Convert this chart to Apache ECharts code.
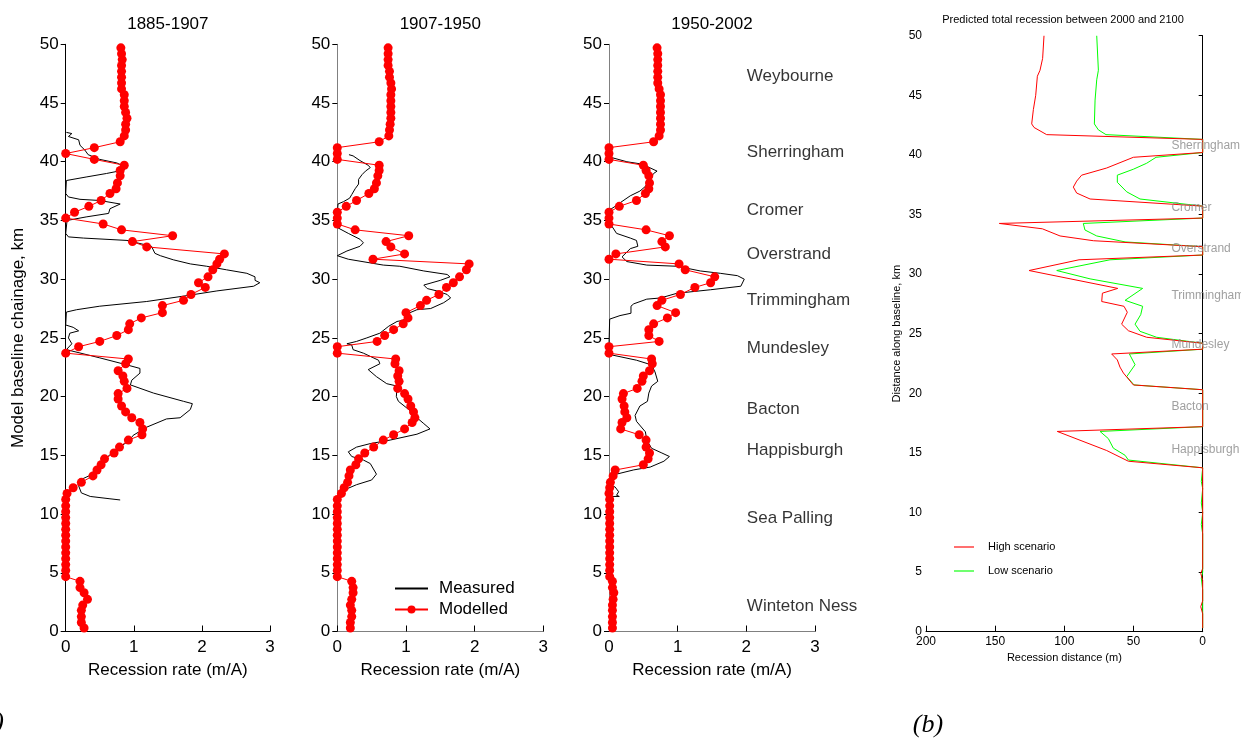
<!DOCTYPE html>
<html>
<head>
<meta charset="utf-8">
<script src="https://cdn.jsdelivr.net/npm/echarts@6/dist/echarts.min.js"></script>
<style>
html,body{margin:0;padding:0;background:#fff;}
#chart{width:1241px;height:738px;}
</style>
</head>
<body>
<div id="chart"></div>
<script>
// ---------- DATA ----------
const panelTitles = ['1885-1907', '1907-1950', '1950-2002'];
const rateTicks = [0, 1, 2, 3];
const kmTicks = [0, 5, 10, 15, 20, 25, 30, 35, 40, 45, 50];

// model node chainage (km), shared by the three modelled series
const modelKm = [0.3,0.77,1.27,1.8,2.25,2.74,3.3,3.74,4.27,4.67,
 5.2,5.7,6.2,6.7,7.2,7.7,8.2,8.7,9.2,9.7,
 10.2,10.7,11.25,11.76,12.24,12.7,13.25,13.75,14.2,14.7,
 15.2,15.7,16.3,16.75,17.25,17.8,18.2,18.7,19.2,19.8,
 20.26,20.7,21.3,21.76,22.2,22.8,23.2,23.7,24.25,24.7,
 25.2,25.7,26.2,26.7,27.15,27.75,28.2,28.7,29.3,29.7,
 30.2,30.8,31.3,31.7,32.15,32.75,33.2,33.7,34.2,34.7,
 35.2,35.7,36.2,36.7,37.3,37.7,38.2,38.8,39.25,39.7,
 40.2,40.7,41.2,41.7,42.2,42.7,43.2,43.7,44.2,44.7,
 45.2,45.7,46.2,46.7,47.2,47.7,48.2,48.7,49.2,49.7];

const modelled1885 = [0.27,0.23,0.23,0.23,0.25,0.32,0.27,0.21,0.21,0.0,
 0,0,0,0,0,0,0,0,0,0,
 0,0,0,0.02,0.11,0.23,0.40,0.46,0.52,0.57,
 0.71,0.79,0.92,1.12,1.13,1.09,0.97,0.88,0.82,0.77,
 0.77,0.90,0.86,0.84,0.77,0.88,0.92,0.0,0.19,0.50,
 0.75,0.92,0.94,1.11,1.42,1.42,1.73,1.84,2.05,1.95,
 2.09,2.16,2.22,2.26,2.33,1.19,0.98,1.57,0.82,0.55,
 0.0,0.13,0.34,0.52,0.65,0.74,0.76,0.80,0.80,0.86,
 0.42,0.0,0.42,0.80,0.86,0.88,0.88,0.90,0.88,0.86,
 0.86,0.86,0.82,0.82,0.82,0.82,0.82,0.83,0.82,0.81];

const modelled1907 = [0.19,0.19,0.21,0.21,0.19,0.21,0.23,0.23,0.21,0.0,
 0,0,0,0,0,0,0,0,0,0,
 0,0,0,0.06,0.10,0.15,0.17,0.19,0.27,0.31,
 0.40,0.53,0.67,0.82,0.98,1.09,1.13,1.11,1.07,1.03,
 0.98,0.88,0.90,0.88,0.90,0.84,0.85,0.0,0.0,0.58,
 0.69,0.82,0.96,1.03,1.00,1.21,1.30,1.48,1.59,1.69,
 1.78,1.88,1.92,0.52,0.98,0.78,0.71,1.04,0.26,0.0,
 0.0,0.0,0.13,0.28,0.46,0.54,0.57,0.59,0.61,0.61,
 0,0,0,0.61,0.75,0.76,0.77,0.78,0.78,0.78,
 0.78,0.78,0.79,0.78,0.76,0.76,0.74,0.74,0.74,0.74];

const modelled1950 = [0.05,0.05,0.05,0.05,0.05,0.06,0.07,0.05,0.05,0.01,
 0.01,0.01,0.01,0.01,0.01,0.01,0.01,0.01,0.01,0.01,
 0.01,0.01,0.01,0.0,0.01,0.02,0.06,0.09,0.50,0.57,
 0.59,0.54,0.54,0.44,0.17,0.19,0.26,0.23,0.22,0.19,
 0.21,0.41,0.48,0.50,0.59,0.63,0.62,0.0,0.0,0.73,
 0.58,0.58,0.65,0.85,0.97,0.70,0.77,1.04,1.25,1.48,
 1.54,1.11,1.02,0.0,0.10,0.82,0.77,0.88,0.54,0.0,
 0.0,0.0,0.15,0.40,0.53,0.58,0.59,0.58,0.54,0.50,
 0,0,0,0.65,0.73,0.75,0.75,0.75,0.75,0.75,
 0.75,0.75,0.73,0.71,0.71,0.71,0.71,0.71,0.71,0.70];

// measured recession [rate m/A, km]
const measured1885 = [[0.01,42.5],[0.09,42.4],[0.04,42.15],[0.19,41.87],[0.21,41.4],[0.28,41.0],[0.33,40.6],[0.5,40.2],[0.75,39.9],[0.86,39.6],[0.86,39.3],[0.6,39.0],[0.3,38.7],[0.01,38.4],[0.0,37.3],[0.04,37.0],[0.21,36.8],[0.5,36.7],[0.8,36.4],[0.65,36.0],[0.63,35.6],[0.3,35.3],[0.02,35.0],[0.0,33.9],[0.04,33.6],[0.26,33.5],[0.9,33.3],[1.26,32.8],[1.31,32.2],[1.39,32.0],[1.58,31.65],[1.83,31.3],[2.07,31.1],[2.36,30.8],[2.66,30.5],[2.78,30.2],[2.78,29.9],[2.85,29.7],[2.76,29.4],[2.22,29.0],[1.78,28.6],[1.19,28.1],[0.5,27.7],[0.16,27.4],[0.01,27.2],[0.0,26.1],[0.11,25.9],[0.19,25.6],[0.06,25.4],[0.04,25.0],[0.09,24.5],[0.01,24.0],[0.5,23.3],[0.9,22.7],[1.09,22.4],[1.09,22.0],[0.97,21.4],[0.95,21.0],[1.29,20.3],[1.73,19.6],[1.86,19.4],[1.83,18.9],[1.68,18.2],[1.48,18.1],[1.19,17.4],[0.99,16.7],[0.94,16.3],[0.70,15.3],[0.50,14.3],[0.36,13.3],[0.21,12.9],[0.19,12.4],[0.23,11.8],[0.36,11.5],[0.65,11.3],[0.80,11.2]];

const measured1907 = [[0.17,40.6],[0.23,40.5],[0.33,40.1],[0.45,39.7],[0.48,39.5],[0.41,39.2],[0.36,38.9],[0.31,38.5],[0.31,38.1],[0.26,37.7],[0.21,37.2],[0.18,36.9],[0.09,36.6],[0.01,36.4],[0,35.5],[0,34.4],[0.16,33.9],[0.33,33.4],[0.38,33.1],[0.33,32.8],[0.14,32.4],[0,32.0],[0.16,31.7],[0.67,31.2],[0.91,31.1],[1.26,30.7],[1.60,30.4],[1.64,30.2],[1.50,29.9],[1.26,29.5],[1.31,29.2],[1.45,29.0],[1.60,28.7],[1.65,28.4],[1.55,28.0],[1.36,27.5],[1.16,27.4],[1.04,27.1],[0.96,26.5],[0.87,26.4],[0.75,26.0],[0.62,25.4],[0.43,25.0],[0.28,24.7],[0.14,24.5],[0.21,24.4],[0.23,24.0],[0.38,23.7],[0.6,23.1],[0.62,22.8],[0.45,22.3],[0.57,21.7],[0.72,21.1],[0.87,20.9],[0.86,20.0],[0.89,19.6],[1.04,18.9],[1.16,18.2],[1.26,17.7],[1.35,17.25],[1.16,16.8],[0.77,16.3],[0.48,16.0],[0.28,15.7],[0.16,15.3],[0.21,14.9],[0.38,14.6],[0.48,14.3],[0.57,13.4],[0.50,12.9],[0.28,12.5],[0.16,12.2],[0.01,11.5]];

const measured1950 = [[0.01,40.4],[0.26,40.0],[0.48,39.8],[0.70,39.2],[0.65,39.0],[0.59,38.5],[0.53,37.9],[0.45,37.5],[0.31,37.1],[0.16,36.5],[0.09,36.2],[0.01,35.9],[0,35.3],[0.01,34.8],[0.11,33.9],[0.31,33.5],[0.40,33.3],[0.42,32.8],[0.31,32.6],[0.19,31.9],[0.26,31.5],[0.55,31.2],[0.99,31.1],[1.33,30.7],[1.62,30.5],[1.87,30.3],[1.97,30.0],[1.92,29.4],[1.48,29.1],[0.99,28.8],[0.75,28.4],[0.55,28.3],[0.36,27.9],[0.32,27.7],[0.32,27.1],[0.16,26.9],[0.01,26.6],[0,24.5],[0,23.6],[0.40,23.1],[0.62,22.7],[0.67,22.1],[0.71,21.3],[0.62,20.9],[0.58,20.3],[0.56,19.6],[0.45,19.2],[0.38,18.4],[0.40,17.9],[0.53,17.0],[0.55,16.3],[0.62,15.6],[0.77,15.2],[0.88,14.9],[0.80,14.5],[0.60,14.0],[0.36,13.76],[0.11,13.4],[0.01,13.2],[0.01,12.5],[0.09,12.3],[0.14,11.9],[0.11,11.6],[0.15,11.5],[0.04,11.5]];

const placeNames = ['Weybourne','Sherringham','Cromer','Overstrand','Trimmingham','Mundesley','Bacton','Happisburgh','Sea Palling','Winteton Ness'];
const placeKm = [47.3, 40.84, 35.9, 32.1, 28.2, 24.1, 18.9, 15.4, 9.6, 2.18];
const placeRate = 2.0;

// panel (b): predicted total recession 2000-2100 [m, km]
const bTitle = 'Predicted total recession between 2000 and 2100';
const distTicks = [200, 150, 100, 50, 0];
const highScenario = [[114.7,50.0],[115.7,48.1],[117.6,47.1],[119.5,46.6],[120.7,45.0],[122.4,43.8],[123.6,42.6],[121.9,42.3],[112.8,41.7],[0,41.3],[0,40.2],[50.1,39.8],[69.4,38.9],[87.5,38.3],[91.1,37.8],[93.5,37.3],[91.1,36.8],[81.4,36.3],[0,35.7],[0,34.7],[147,34.25],[115.9,33.8],[103.1,33.2],[79.0,32.8],[0,32.3],[0,31.6],[89.4,31.2],[125.5,30.3],[61.4,28.8],[72.5,28.4],[73.0,27.7],[56.9,27.3],[54.5,26.8],[58.6,25.8],[53.7,25.25],[40.5,24.7],[0,24.2],[0,23.7],[65.8,23.3],[61.7,22.8],[59.8,22.2],[57.3,21.7],[50.1,20.7],[0,20.3],[0,17.2],[105.1,16.8],[69.4,15.2],[53.7,14.3],[0,13.75],[0,5.3],[1.4,4.9],[0,4.3],[0,2.6],[1.4,2.1],[0,1.5],[0,0.3]];
const lowScenario = [[76.6,50.0],[76.1,48.8],[75.4,47.1],[76.6,46.3],[77.8,44.6],[78.3,42.6],[75.4,42.1],[69.9,41.7],[0,41.3],[0,40.2],[33.7,39.8],[40.5,39.3],[50.1,38.8],[61.7,38.3],[61.7,37.7],[54.9,36.9],[45.3,36.3],[0,35.7],[0,34.7],[86.3,34.25],[85.1,33.7],[76.6,33.2],[56.1,32.7],[0,32.3],[0,31.6],[67.0,31.2],[105.5,30.3],[81.4,29.6],[43.4,28.8],[56.1,27.8],[43.4,27.3],[44.8,26.6],[48.9,25.8],[45.3,25.2],[33.3,24.7],[0,24.2],[0,23.7],[53.0,23.3],[48.9,22.4],[54.9,21.4],[49.6,20.7],[0,20.3],[0,17.2],[74.2,16.8],[68.2,16.2],[64.6,15.4],[56.1,14.8],[53.7,14.4],[0,13.75],[1,12.6],[0,12.0],[1,10.8],[0,10.0],[1,9.0],[0,8.2],[0,5.0],[1,4.5],[0,3.5],[0,0.3]];
const bPlaceNames = ['Sherringham','Cromer','Overstrand','Trimmingham','Mundesley','Bacton','Happisburgh'];
const bPlaceKm = [40.8, 35.6, 32.1, 28.2, 24.05, 18.87, 15.3];
const bPlaceDist = 23;
const bLegendNames = ['High scenario', 'Low scenario'];

// ---------- CHART ----------
const FF = "'Liberation Sans', Arial, sans-serif";
const zip = (xs, ys) => xs.map((x, i) => [x, ys[i]]);
const modelledSets = [modelled1885, modelled1907, modelled1950];
const measuredSets = [measured1885, measured1907, measured1950];

const gridDefs = [
  {left: 65.7, top: 44.3, width: 204.3, height: 587.2},
  {left: 337.3, top: 44.3, width: 206, height: 587.2},
  {left: 609, top: 44.3, width: 206, height: 587.2},
  {left: 926, top: 35.7, width: 276.7, height: 596}
];

const xAxes = [], yAxes = [], series = [];
for (let i = 0; i < 3; i++) {
  const axisCol = i === 0 ? '#000' : '#808080';
  xAxes.push({
    gridIndex: i, type: 'value', min: rateTicks[0], max: rateTicks[rateTicks.length - 1], interval: 1,
    axisLine: {show: true, lineStyle: {color: axisCol, width: 1}},
    axisTick: {show: true, inside: true, length: 6, lineStyle: {color: '#000'}},
    axisLabel: {fontSize: 17, color: '#000', margin: 7, fontFamily: FF},
    splitLine: {show: false},
    name: 'Recession rate (m/A)', nameLocation: 'middle', nameGap: 30,
    nameTextStyle: {fontSize: 17, color: '#000', fontFamily: FF}
  });
  yAxes.push({
    gridIndex: i, type: 'value', min: kmTicks[0], max: kmTicks[kmTicks.length - 1], interval: 5,
    axisLine: {show: true, lineStyle: {color: axisCol, width: 1}},
    axisTick: {show: true, inside: false, length: 5, lineStyle: {color: '#000'}},
    axisLabel: {fontSize: 17, color: '#000', margin: 7, fontFamily: FF},
    splitLine: {show: false},
    name: i === 0 ? 'Model baseline chainage, km' : '', nameLocation: 'middle', nameGap: 39,
    nameTextStyle: {fontSize: 17, color: '#000', fontFamily: FF}
  });
  series.push({
    name: 'Measured', type: 'line', xAxisIndex: i, yAxisIndex: i,
    data: measuredSets[i], symbol: 'none', lineStyle: {color: '#000', width: 1},
    itemStyle: {color: '#000'}, z: 2, clip: false
  });
  series.push({
    name: 'Modelled', type: 'line', xAxisIndex: i, yAxisIndex: i,
    data: zip(modelledSets[i], modelKm), symbol: 'circle', symbolSize: 9,
    showSymbol: true, showAllSymbol: true,
    lineStyle: {color: '#ff0000', width: 1}, itemStyle: {color: '#ff0000'}, z: 3, clip: false
  });
}
// place names on panel 3
series.push({
  name: 'places', type: 'scatter', xAxisIndex: 2, yAxisIndex: 2,
  data: placeNames.map((n, i) => ({value: [placeRate, placeKm[i]], name: n})),
  symbolSize: 1, itemStyle: {color: 'rgba(0,0,0,0)'}, clip: false,
  label: {show: true, position: 'right', distance: 0, formatter: p => p.name,
    fontSize: 17, color: '#000', fontFamily: FF}
});

// panel (b)
xAxes.push({
  gridIndex: 3, type: 'value', min: 0, max: 200, interval: 50, inverse: true,
  axisLine: {show: true, lineStyle: {color: '#000', width: 1}},
  axisTick: {show: true, inside: true, length: 6, lineStyle: {color: '#000'}},
  axisLabel: {fontSize: 12, color: '#000', margin: 4, fontFamily: FF},
  splitLine: {show: false},
  name: 'Recession distance (m)', nameLocation: 'middle', nameGap: 20,
  nameTextStyle: {fontSize: 11, color: '#000', fontFamily: FF}
});
yAxes.push({
  gridIndex: 3, type: 'value', min: 0, max: 50, interval: 5,
  axisLine: {show: true, lineStyle: {color: '#000', width: 1}},
  axisTick: {show: true, inside: false, length: 4, lineStyle: {color: '#000'}},
  axisLabel: {fontSize: 12, color: '#000', margin: 4, fontFamily: FF},
  splitLine: {show: false},
  name: 'Distance along baseline, km', nameLocation: 'middle', nameGap: 24,
  nameTextStyle: {fontSize: 11, color: '#000', fontFamily: FF}
});
series.push({
  name: bLegendNames[1], type: 'line', xAxisIndex: 3, yAxisIndex: 3, data: lowScenario,
  symbol: 'none', lineStyle: {color: '#00ff00', width: 1}, itemStyle: {color: '#00ff00'}, z: 2
});
series.push({
  name: bLegendNames[0], type: 'line', xAxisIndex: 3, yAxisIndex: 3, data: highScenario,
  symbol: 'none', lineStyle: {color: '#ff0000', width: 1}, itemStyle: {color: '#ff0000'}, z: 3
});
series.push({
  name: 'bplaces', type: 'scatter', xAxisIndex: 3, yAxisIndex: 3,
  data: bPlaceNames.map((n, i) => ({value: [bPlaceDist, bPlaceKm[i]], name: n})),
  symbolSize: 1, itemStyle: {color: 'rgba(0,0,0,0)'}, z: 10, clip: false,
  label: {show: true, position: 'right', distance: 0, formatter: p => p.name,
    fontSize: 12, color: '#888888', fontFamily: FF}
});

const titleTexts = panelTitles.map((t, i) => ({
  type: 'text', x: gridDefs[i].left + gridDefs[i].width / 2, y: 24,
  style: {text: t, fontSize: 17, fill: '#000', fontFamily: FF, textAlign: 'center', textVerticalAlign: 'middle'}
}));

// legend for panel (b), drawn as simple graphic keys
const bLegendColors = ['#ff7070', '#70ff70'];
const bLegend = [];
bLegendNames.forEach((n, i) => {
  const y = 547 + i * 24;
  bLegend.push({type: 'line', shape: {x1: 954, y1: y, x2: 974, y2: y},
    style: {stroke: bLegendColors[i], lineWidth: 2}});
  bLegend.push({type: 'text', x: 988, y: y,
    style: {text: n, fontSize: 11, fill: '#000', fontFamily: FF, textAlign: 'left', textVerticalAlign: 'middle'}});
});

const option = {
  animation: false,
  backgroundColor: '#fff',
  textStyle: {fontFamily: FF},
  grid: gridDefs,
  xAxis: xAxes,
  yAxis: yAxes,
  legend: {
    data: [{name: 'Measured', itemStyle: {opacity: 0}}, {name: 'Modelled'}],
    orient: 'vertical', left: 394, top: 580, padding: 0,
    itemWidth: 33, itemHeight: 10, itemGap: 4,
    textStyle: {fontSize: 17, color: '#000', fontFamily: FF, padding: [0, 0, 0, 6]},
    selectedMode: false
  },
  graphic: titleTexts.concat(bLegend).concat([
    {type: 'text', x: 1063, y: 20,
      style: {text: bTitle, fontSize: 11, fill: '#000', fontFamily: FF, textAlign: 'center', textVerticalAlign: 'middle'}},
    {type: 'text', x: 928, y: 725,
      style: {text: '(b)', font: 'italic 26px "Liberation Serif", serif', fill: '#000', textAlign: 'center', textVerticalAlign: 'middle'}},
    {type: 'text', x: 4, y: 722,
      style: {text: '(a)', font: 'italic 26px "Liberation Serif", serif', fill: '#000', textAlign: 'right', textVerticalAlign: 'middle'}}
  ]),
  series: series
};

const chart = echarts.init(document.getElementById('chart'), null, {renderer: 'canvas'});
chart.setOption(option);
</script>
</body>
</html>
